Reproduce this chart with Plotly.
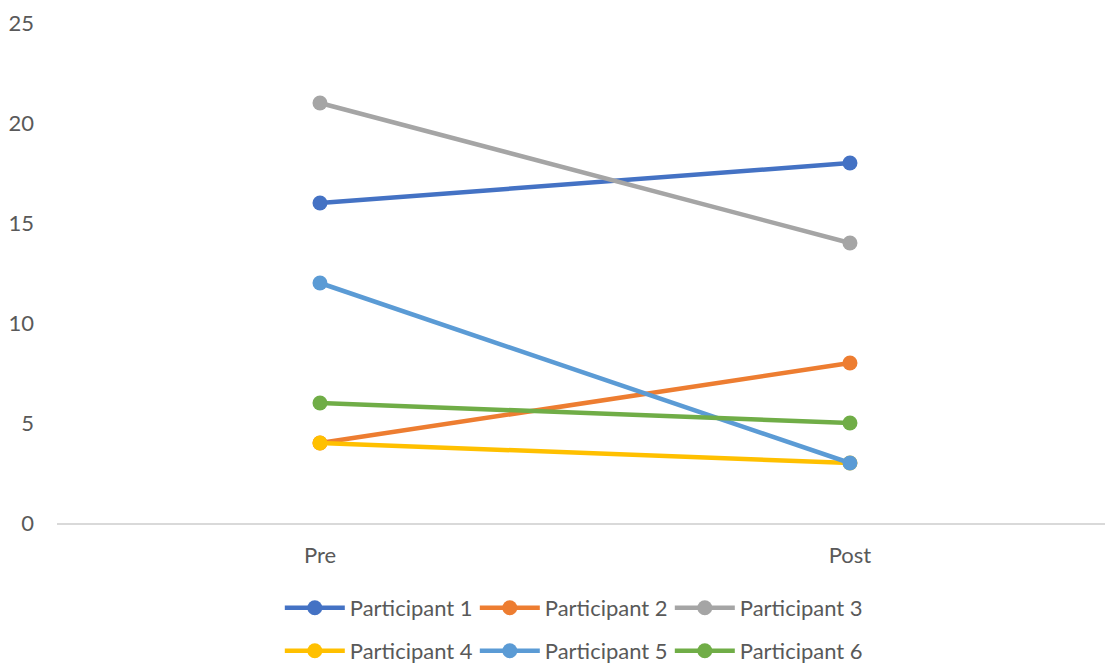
import plotly.graph_objects as go

categories = ["Pre", "Post"]
participants = ["Participant 1", "Participant 2", "Participant 3",
                "Participant 4", "Participant 5", "Participant 6"]
p1 = [16, 18]
p2 = [4, 8]
p3 = [21, 14]
p4 = [4, 3]
p5 = [12, 3]
p6 = [6, 5]
series = [p1, p2, p3, p4, p5, p6]
colors = ["#4472C4", "#ED7D31", "#A5A5A5", "#FFC000", "#5B9BD5", "#70AD47"]
y_ticks = [0, 5, 10, 15, 20, 25]

FONT = "Lato, Carlito, Calibri, 'Open Sans', sans-serif"
TXT = "#595959"
FS = 22

fig = go.Figure()
for i, (name, vals, col) in enumerate(zip(participants, series, colors)):
    fig.add_trace(go.Scatter(
        x=categories, y=vals, name=name, mode="lines+markers",
        line=dict(color=col, width=4.5),
        marker=dict(color=col, size=15),
        legend="legend" if i < 3 else "legend2",
    ))

legend_common = dict(
    orientation="h", xanchor="left", yanchor="middle",
    font=dict(family=FONT, size=FS, color=TXT),
    itemwidth=60, entrywidth=120, entrywidthmode="pixels",
    bgcolor="rgba(0,0,0,0)", tracegroupgap=0,
)

fig.update_layout(
    width=1105, height=664,
    margin=dict(l=57, r=0, t=23, b=141, autoexpand=False),
    paper_bgcolor="white", plot_bgcolor="white",
    font=dict(family=FONT, size=FS, color=TXT),
    showlegend=True,
    legend=dict(x=0.2126, y=-0.17, **legend_common),
    legend2=dict(x=0.2126, y=-0.256, **legend_common),
    xaxis=dict(
        type="category", range=[-0.4962, 1.4812],
        showgrid=False, zeroline=False, automargin=False,
        showline=True, linecolor="#D9D9D9", linewidth=2,
        ticks="", ticklabelstandoff=12,
        tickfont=dict(family=FONT, size=FS, color=TXT),
    ),
    yaxis=dict(
        range=[0, 25], tickvals=y_ticks, showgrid=False,
        zeroline=False, showline=False, ticks="", automargin=False,
        ticklabelstandoff=22,
        tickfont=dict(family=FONT, size=FS, color=TXT),
    ),
)

fig.write_html("out.html")
